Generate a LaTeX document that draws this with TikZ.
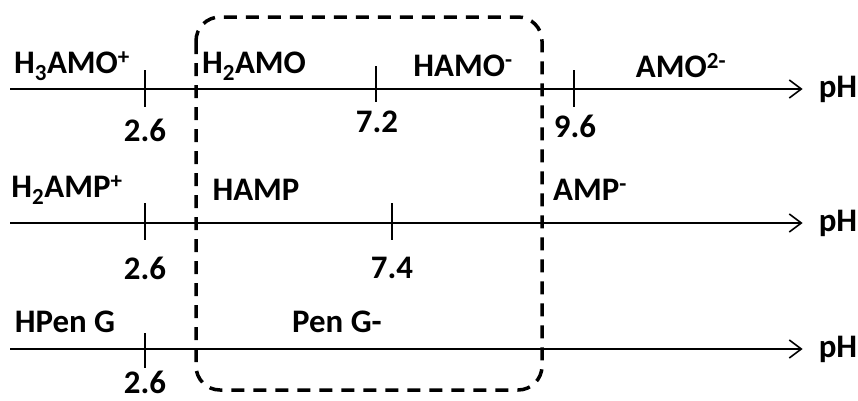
\documentclass[tikz,border=0pt]{standalone}
\usepackage{fontspec}
\setmainfont{Carlito}
\usetikzlibrary{arrows.meta,positioning}

\begin{document}
\begin{tikzpicture}[x=1bp,y=-1bp,
  sp/.style={font=\fontsize{33}{37}\selectfont\bfseries,inner sep=0pt},
  ax/.style={-{Straight Barb[length=12bp,width=18bp,line width=1.6bp]},line width=2bp,shorten >=16bp},
  tk/.style={line width=2bp},
  zone/.style={line width=3.5bp,dash pattern=on 13bp off 9bp,rounded corners=24bp}]
\useasboundingbox (0,0) rectangle (858,400);
% axes
\foreach \r/\y in {1/89,2/223,3/349}{
  \coordinate (s\r) at (10,\y);
  \node[sp] (ph\r) at (838,\y) {pH};
  \draw[ax] (s\r) -- (ph\r.west);
}
% ticks
\foreach \x/\a/\b in {145/70/107,376/66/102,574/70/107,145/203/240,392/203/240,145/333/368}
  \draw[tk] (\x,\a) -- (\x,\b);
% species and pKa values
\node[sp] (amo3) at (72,66) {H\textsubscript{3}AMO\textsuperscript{+}};
\node[sp] (amo2) at (254,66) {H\textsubscript{2}AMO};
\node[sp] (amo1) at (463,66) {HAMO\textsuperscript{-}};
\node[sp] (amo0) at (681,66) {AMO\textsuperscript{2-}};
\node[sp] (k1) at (145,130) {2.6};
\node[sp] (k2) at (377,122) {7.2};
\node[sp] (k3) at (575,126) {9.6};
\node[sp] (amp2) at (67,190) {H\textsubscript{2}AMP\textsuperscript{+}};
\node[sp] (amp1) at (256,190) {HAMP};
\node[sp] (amp0) at (590,190) {AMP\textsuperscript{-}};
\node[sp] (k4) at (145,268) {2.6};
\node[sp] (k5) at (392,268) {7.4};
\node[sp] (pen1) at (65,322) {HPen G};
\node[sp] (pen0) at (337,322) {Pen G-};
\node[sp] (k6) at (145,382) {2.6};
% common window
\draw[zone] (196,17) rectangle (542,390);
\end{tikzpicture}
\end{document}
